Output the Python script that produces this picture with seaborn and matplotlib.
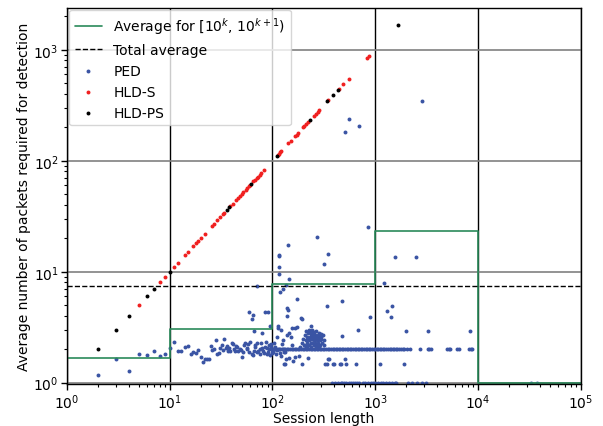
import numpy as np
import pandas as pd
import matplotlib
matplotlib.use('Agg')
import matplotlib.pyplot as plt
import seaborn as sns

# decade averages (step line) and overall average
decade_edges = [1, 10, 100, 1000, 10000, 100000]
decade_avg = [1.67, 3.07, 7.75, 23.4, 1.0, 1.0]
total_avg = 7.43

# HLD-S and HLD-PS: packets needed == session length
hlds_len = [5, 8, 9, 11, 12, 14, 15, 17, 18, 19, 20, 22, 26, 27, 29, 31, 33, 34, 39,
            41, 44, 46, 48, 50, 52, 55, 57, 59, 60, 65, 67, 70, 72, 75, 78, 83,
            113, 116, 119, 122, 143, 152, 167, 172, 178, 200, 205, 214, 222, 255,
            265, 275, 285, 350, 440, 490, 550, 840, 880]
hldps_len = [2, 3, 4, 6, 7, 10, 36, 38, 62, 111, 233, 342, 390, 435, 1680]

# PED scattered points (session length, packets)
ped_len = [2, 3, 4, 5, 6, 7, 8, 9, 10,
           11, 12, 13, 14, 15, 16, 17, 18, 19, 20, 21, 22, 23, 24, 25, 26, 27, 28, 29, 30,
           31, 32, 34, 35, 36, 37, 39, 40, 41, 43, 44, 46, 48, 49, 50, 53, 54, 56, 58, 59,
           61, 63, 64, 66, 68, 71, 73, 75, 78, 79, 81, 83, 87, 89, 91, 95, 97, 99,
           59, 64, 63, 85, 90, 66, 79, 95, 71,
           93, 96, 98, 92, 88, 85, 76, 70, 67, 57, 52, 45, 42, 38, 33,
           143, 116, 116, 116, 146, 136, 127, 119, 175, 139, 142, 139, 195, 114, 114, 121,
           156, 167, 172, 111, 127, 138, 146, 150, 124, 106, 104, 111, 121, 136, 133, 146,
           167, 180, 222, 195, 160, 102, 108, 118, 130, 155, 185, 130, 133,
           859, 273, 349, 318, 116, 336, 480, 890, 687, 480, 239, 190, 344, 359, 510,
           323, 338, 388, 400, 450, 464, 520, 655, 1110, 1925,
           556, 512, 697, 2840,
           1230, 1570, 2520, 1290, 1460, 1440, 2000, 3300, 8400,
           195, 200, 205, 208, 210, 213, 216, 218, 220, 222, 225, 228, 230, 232, 235, 238,
           240, 242, 245, 248, 250, 252, 255, 258, 260, 262, 265, 268, 270, 272, 275, 278,
           280, 283, 286, 290, 293, 296, 300, 305, 310, 315, 320, 212, 226, 244, 236, 256,
           266, 284, 298, 215, 247, 262, 233]
ped_pkts = [1.18, 1.65, 1.28, 1.83, 1.79, 1.94, 1.75, 1.83, 2.07,
            2.34, 1.94, 1.94, 2.11, 2.15, 1.82, 1.9, 1.86, 1.98, 1.72, 1.55, 1.64, 1.64, 1.64,
            2.15, 1.98, 2.02, 2.44, 1.82, 1.86,
            2.07, 2.2, 2.49, 2.07, 2.15, 1.94, 1.94, 2.29, 2.25, 1.94, 2.15, 1.94, 2.02, 1.98,
            1.72, 2.2, 2.29, 2.07, 2.25, 1.9,
            2.34, 1.82, 1.79, 1.94, 2.2, 2.29, 1.94, 1.82, 2.29, 2.07, 1.94, 1.86, 2.34, 2.07,
            1.9, 1.79, 2.25, 1.98,
            4.37, 4.1, 3.77, 4.37, 4.37, 2.94, 2.82, 3.26, 7.47,
            2.0, 2.1, 1.85, 2.2, 1.8, 2.1, 2.0, 1.9, 2.1, 2.0, 1.9, 2.1, 2.0, 2.05, 1.95,
            17.5, 14.2, 11.1, 9.6, 8.6, 7.6, 7.0, 6.5, 5.7, 4.74, 4.55, 4.0, 3.77, 3.26, 3.13,
            3.0, 3.13, 3.13, 3.2, 2.6, 2.44, 2.7, 2.8, 2.6, 2.25, 2.11, 2.3, 1.98, 1.75, 1.64,
            1.48, 1.68, 1.72, 1.75, 1.68, 1.48, 1.58, 1.9, 1.8, 1.85, 1.9, 2.2, 2.1, 1.48, 1.88,
            25.4, 20.7, 14.5, 11.8, 13.9, 4.94, 5.5, 3.93, 3.0, 2.65, 3.26, 3.86, 1.65, 1.65,
            1.65, 1.48, 1.48, 1.48, 1.48, 1.48, 1.48, 1.48, 1.48, 1.48, 1.48,
            238, 182, 207, 347,
            7.9, 13.6, 13.6, 4.45, 4.94, 3.93, 2.94, 2.94, 2.94,
            2.3, 2.5, 2.2, 2.7, 2.4, 2.1, 2.6, 2.3, 2.8, 2.5, 2.2, 2.4, 2.9, 2.6, 2.3, 2.1,
            2.7, 2.5, 2.3, 2.8, 2.6, 2.2, 2.4, 2.7, 2.5, 2.3, 2.9, 2.6, 2.4, 2.2, 2.7, 2.5,
            2.3, 2.6, 2.8, 2.4, 2.2, 2.6, 2.5, 2.3, 2.7, 2.4, 2.2, 2.9, 3.0, 3.0, 2.75, 2.85,
            2.15, 2.1, 2.75, 2.15, 2.55, 2.65, 2.45]
# PED sessions detected after exactly 2 packets / 1 packet
ped_len_two = [100, 103, 107, 109, 113, 116, 118, 123, 126, 131, 134, 139, 143, 147, 154,
               158, 165, 169, 176, 183, 188, 197, 203, 211, 217, 226, 235, 241, 252, 259,
               271, 279, 291, 299, 312, 321, 335, 345, 359, 370, 385, 397, 413, 426, 443,
               457, 476, 491, 511, 527, 548, 566, 588, 607, 631, 652, 678, 700, 727, 751,
               780, 806, 837, 865, 898, 928, 963, 1000, 1032, 1068, 1112, 1148, 1192, 1228,
               1283, 1327, 1384, 1428, 1483, 1527, 1592, 1648, 1712, 1778, 1853, 1918, 2060,
               2170, 2700, 3230, 3350, 3500, 5000, 5200, 5370, 6300, 6600, 8200, 8500, 8800]
ped_len_one = [380, 408, 430, 461, 474, 492, 518, 551, 578, 615, 642, 668, 702, 755, 788,
               842, 901, 948, 1003, 1072, 1128, 1204, 1281, 1352, 1470, 1548, 1602, 2100,
               2300, 2570, 2880, 3100, 32600, 37800]

ped = pd.DataFrame({
    'length': ped_len + ped_len_two + ped_len_one,
    'packets': ped_pkts + [2] * len(ped_len_two) + [1] * len(ped_len_one),
})

sns.set_style('whitegrid', {'axes.edgecolor': 'black', 'axes.labelcolor': 'black',
                            'text.color': 'black'})
plt.rcParams['font.family'] = ['DejaVu Sans']
plt.rcParams['font.size'] = 10

fig = plt.figure(figsize=(6.03, 4.27), dpi=100)
ax = fig.add_axes([0.111, 0.098, 0.852, 0.882])

ax.plot(decade_edges, decade_avg, drawstyle='steps-post', color='#2a8a5a', lw=1.2,
        label='Average for [$10^k$, $10^{k+1}$)')
ax.axhline(total_avg, color='black', ls='--', lw=1, label='Total average')

sns.scatterplot(data=ped, x='length', y='packets', color='#3a54a4', s=8, linewidth=0,
                label='PED', ax=ax, legend=False)
sns.scatterplot(x=hlds_len, y=hlds_len, color='#f02020', s=8, linewidth=0,
                label='HLD-S', ax=ax, legend=False)
sns.scatterplot(x=hldps_len, y=hldps_len, color='black', s=8, linewidth=0,
                label='HLD-PS', ax=ax, legend=False)

ax.set_xscale('log')
ax.set_yscale('log')
ax.set_xlim(1, 1e5)
ax.set_ylim(0.97, 2400)
ax.grid(False)
ax.grid(True, which='major', axis='x', color='black', lw=1)
ax.grid(True, which='major', axis='y', color='#808080', lw=1.2)
ax.set_axisbelow(True)
ax.tick_params(which='both', bottom=True, left=True, direction='out', color='black',
               labelcolor='black')
ax.tick_params(which='major', length=4, width=1, pad=2, labelsize=10)
ax.tick_params(which='minor', length=2, width=0.8)
for s in ax.spines.values():
    s.set_color('black')
    s.set_linewidth(1)

ax.set_xlabel('Session length', labelpad=0, fontsize=10)
ax.set_ylabel('Average number of packets required for detection', fontsize=10, labelpad=2)
ax.legend(loc='upper left', frameon=True, fontsize=10, borderaxespad=0.15)

plt.savefig('out.png', dpi=100)
